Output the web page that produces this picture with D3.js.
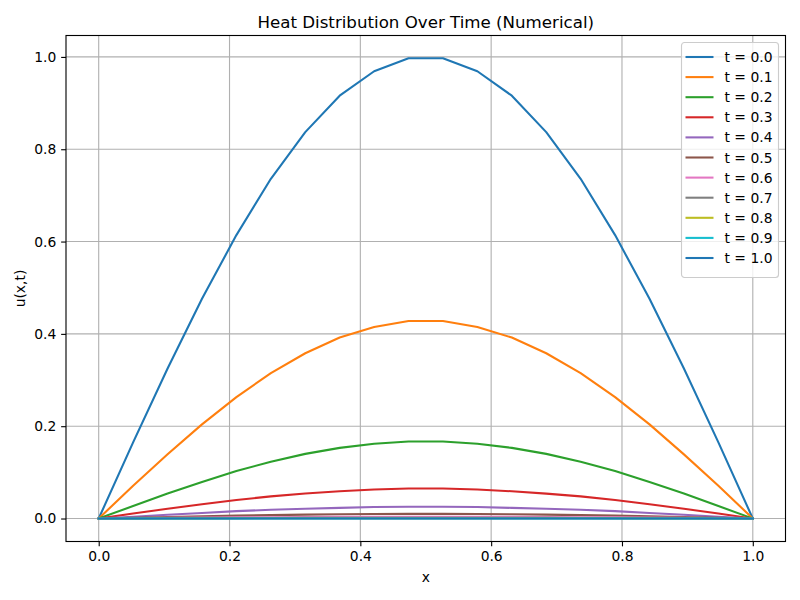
<!DOCTYPE html>
<html>
<head>
<meta charset="utf-8">
<script src="https://cdn.jsdelivr.net/npm/d3@7"></script>
<style>
  body { margin: 0; background: #fff; }
  text { font-family: "DejaVu Sans", sans-serif; }
</style>
</head>
<body>
<script>
var width = 800,
    height = 600,
    margin = {top: 35.5, right: 14.5, bottom: 58.5, left: 66};

// x grid: 20 points from 0 to 1
var xs = [0, 0.0526, 0.1053, 0.1579, 0.2105, 0.2632, 0.3158, 0.3684, 0.4211, 0.4737,
          0.5263, 0.5789, 0.6316, 0.6842, 0.7368, 0.7895, 0.8421, 0.8947, 0.9474, 1];

var times = ["0.0", "0.1", "0.2", "0.3", "0.4", "0.5", "0.6", "0.7", "0.8", "0.9", "1.0"];

var u00 = [0, 0.165, 0.325, 0.476, 0.614, 0.736, 0.837, 0.916, 0.969, 0.997,
           0.997, 0.969, 0.916, 0.837, 0.736, 0.614, 0.476, 0.325, 0.165, 0];
var u01 = [0, 0.071, 0.139, 0.204, 0.263, 0.315, 0.358, 0.392, 0.415, 0.428,
           0.428, 0.415, 0.392, 0.358, 0.315, 0.263, 0.204, 0.139, 0.071, 0];
var u02 = [0, 0.027, 0.054, 0.079, 0.103, 0.123, 0.140, 0.153, 0.162, 0.167,
           0.167, 0.162, 0.153, 0.140, 0.123, 0.103, 0.079, 0.054, 0.027, 0];
var u03 = [0, 0.011, 0.021, 0.031, 0.040, 0.048, 0.054, 0.059, 0.063, 0.065,
           0.065, 0.063, 0.059, 0.054, 0.048, 0.040, 0.031, 0.021, 0.011, 0];
var u04 = [0, 0.004, 0.008, 0.012, 0.016, 0.019, 0.021, 0.023, 0.025, 0.0255,
           0.0255, 0.025, 0.023, 0.021, 0.019, 0.016, 0.012, 0.008, 0.004, 0];
var u05 = [0, 0.0017, 0.0033, 0.0048, 0.0062, 0.0074, 0.0084, 0.0092, 0.0097, 0.010,
           0.010, 0.0097, 0.0092, 0.0084, 0.0074, 0.0062, 0.0048, 0.0033, 0.0017, 0];
var u06 = [0, 0.0007, 0.0013, 0.0019, 0.0024, 0.0029, 0.0033, 0.0036, 0.0038, 0.0039,
           0.0039, 0.0038, 0.0036, 0.0033, 0.0029, 0.0024, 0.0019, 0.0013, 0.0007, 0];
var u07 = [0, 0.0003, 0.0005, 0.0007, 0.0009, 0.0011, 0.0013, 0.0014, 0.0015, 0.0015,
           0.0015, 0.0015, 0.0014, 0.0013, 0.0011, 0.0009, 0.0007, 0.0005, 0.0003, 0];
var u08 = [0, 0.0001, 0.0002, 0.0003, 0.0004, 0.0004, 0.0005, 0.0005, 0.0006, 0.0006,
           0.0006, 0.0006, 0.0005, 0.0005, 0.0004, 0.0004, 0.0003, 0.0002, 0.0001, 0];
var u09 = [0, 0, 0.0001, 0.0001, 0.0001, 0.0002, 0.0002, 0.0002, 0.0002, 0.0002,
           0.0002, 0.0002, 0.0002, 0.0002, 0.0002, 0.0001, 0.0001, 0.0001, 0, 0];
var u10 = [0, 0, 0, 0, 0, 0.0001, 0.0001, 0.0001, 0.0001, 0.0001,
           0.0001, 0.0001, 0.0001, 0.0001, 0.0001, 0, 0, 0, 0, 0];

var series = [u00, u01, u02, u03, u04, u05, u06, u07, u08, u09, u10];

var colors = ["#1f77b4", "#ff7f0e", "#2ca02c", "#d62728", "#9467bd", "#8c564b",
              "#e377c2", "#7f7f7f", "#bcbd22", "#17becf", "#1f77b4"];

var xTicks = [0, 0.2, 0.4, 0.6, 0.8, 1.0];
var yTicks = [0, 0.2, 0.4, 0.6, 0.8, 1.0];

var pt = 100 / 72;  // points to pixels at 100 dpi

var plotW = width - margin.left - margin.right,
    plotH = height - margin.top - margin.bottom;

var x = d3.scaleLinear().domain([-0.05, 1.05]).range([0, plotW]);
var y = d3.scaleLinear().domain([-0.0498, 1.0464]).range([plotH, 0]);

var svg = d3.select("body").append("svg")
    .attr("width", width)
    .attr("height", height);

svg.append("rect").attr("width", width).attr("height", height).attr("fill", "#fff");

var g = svg.append("g")
    .attr("transform", "translate(" + margin.left + "," + margin.top + ")");

// grid
g.selectAll(".xgrid").data(xTicks).enter().append("line")
    .attr("x1", function(d) { return x(d); })
    .attr("x2", function(d) { return x(d); })
    .attr("y1", 0).attr("y2", plotH)
    .attr("stroke", "#b0b0b0").attr("stroke-width", 0.8 * pt);
g.selectAll(".ygrid").data(yTicks).enter().append("line")
    .attr("y1", function(d) { return y(d); })
    .attr("y2", function(d) { return y(d); })
    .attr("x1", 0).attr("x2", plotW)
    .attr("stroke", "#b0b0b0").attr("stroke-width", 0.8 * pt);

var line = d3.line()
    .x(function(d, i) { return x(xs[i]); })
    .y(function(d) { return y(d); });

g.selectAll(".curve").data(series).enter().append("path")
    .attr("class", "curve")
    .attr("d", line)
    .attr("fill", "none")
    .attr("stroke", function(d, i) { return colors[i]; })
    .attr("stroke-width", 1.5 * pt)
    .attr("stroke-linejoin", "round")
    .attr("stroke-linecap", "square");

// axes
var xAxis = g.append("g")
    .attr("transform", "translate(0," + plotH + ")")
    .call(d3.axisBottom(x).tickValues(xTicks).tickFormat(d3.format(".1f")).tickSize(3.5 * pt).tickPadding(3.5 * pt));
var yAxis = g.append("g")
    .call(d3.axisLeft(y).tickValues(yTicks).tickFormat(d3.format(".1f")).tickSize(3.5 * pt).tickPadding(3.5 * pt));

[xAxis, yAxis].forEach(function(a) {
    a.select(".domain").remove();
    a.selectAll("line").attr("stroke", "#000").attr("stroke-width", 0.8 * pt);
    a.selectAll("text").attr("font-size", 10 * pt + "px").attr("fill", "#000")
        .style("font-family", "DejaVu Sans, sans-serif");
});

g.append("rect")
    .attr("width", plotW).attr("height", plotH)
    .attr("fill", "none").attr("stroke", "#000").attr("stroke-width", 0.8 * pt);

// labels
svg.append("text")
    .attr("x", margin.left + plotW / 2).attr("y", 28)
    .attr("text-anchor", "middle").attr("font-size", 12 * pt + "px")
    .text("Heat Distribution Over Time (Numerical)");
svg.append("text")
    .attr("x", margin.left + plotW / 2).attr("y", 582)
    .attr("text-anchor", "middle").attr("font-size", 10 * pt + "px")
    .text("x");
svg.append("text")
    .attr("transform", "translate(25," + (margin.top + plotH / 2) + ") rotate(-90)")
    .attr("text-anchor", "middle").attr("font-size", 10 * pt + "px")
    .text("u(x,t)");

// legend
var legW = 97, legH = 235, legX = plotW - 7 - legW, legY = 7;
var leg = g.append("g").attr("transform", "translate(" + legX + "," + legY + ")");
leg.append("rect")
    .attr("width", legW).attr("height", legH).attr("rx", 3)
    .attr("fill", "#fff").attr("fill-opacity", 0.8)
    .attr("stroke", "#cccccc").attr("stroke-width", 0.8 * pt);
var item = leg.selectAll(".item").data(times).enter().append("g")
    .attr("transform", function(d, i) { return "translate(0," + (14.5 + i * 20.1) + ")"; });
item.append("line")
    .attr("x1", 4).attr("x2", 32)
    .attr("stroke", function(d, i) { return colors[i]; })
    .attr("stroke-width", 1.5 * pt);
item.append("text")
    .attr("x", 43).attr("y", 5)
    .attr("font-size", 10 * pt + "px")
    .text(function(d) { return "t = " + d; });
</script>
</body>
</html>
